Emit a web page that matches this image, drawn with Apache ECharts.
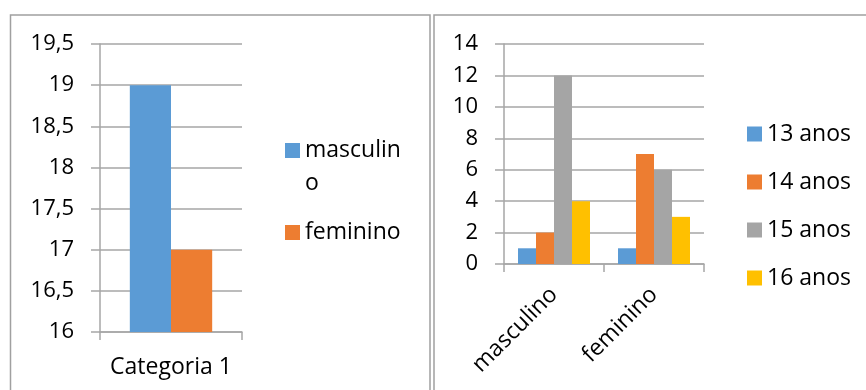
<!DOCTYPE html>
<html>
<head>
<meta charset="utf-8">
<script src="https://cdn.jsdelivr.net/npm/echarts@6/dist/echarts.min.js"></script>
<style>
  html, body { margin: 0; padding: 0; background: #fff; }
  #chart { width: 866px; height: 390px; }
</style>
</head>
<body>
<div id="chart"></div>
<script>
// Left panel: one category, two series
const leftCategories = ['Categoria 1'];
const leftSeriesNames = ['masculino', 'feminino'];
const leftValues = [[19], [17]];
const leftTicks = { min: 16, max: 19.5, interval: 0.5 };

// Right panel: sex x age groups
const rightCategories = ['masculino', 'feminino'];
const rightSeriesNames = ['13 anos', '14 anos', '15 anos', '16 anos'];
const rightValues = [
  [1, 1],   // 13 anos
  [2, 7],   // 14 anos
  [12, 6],  // 15 anos
  [4, 3]    // 16 anos
];
const rightTicks = { min: 0, max: 14, interval: 2 };

const palette = ['#5B9BD5', '#ED7D31', '#A5A5A5', '#FFC000'];
const FONT = 'Open Sans';
const TEXT = '#000000';
const GRID = '#a6a6a6';
const LEGEND_FONT_SIZE = 23;
const LEFT_LEGEND_WIDTH = 102;

const chart = echarts.init(document.getElementById('chart'), null, { renderer: 'canvas' });

const fmtComma = v => String(v).replace('.', ',');

// Entries too long for the legend column wrap; an empty leading line keeps
// the square level with the first line of the wrapped text.
const measureCtx = document.createElement('canvas').getContext('2d');
measureCtx.font = LEGEND_FONT_SIZE + 'px "' + FONT + '"';
const wrapLegend = name =>
  measureCtx.measureText(name).width > LEFT_LEGEND_WIDTH ? '\n' + name : name;

const commonY = {
  type: 'value',
  axisLine: { show: true, lineStyle: { color: GRID, width: 1.5 } },
  axisTick: { show: true, inside: false, length: 9, lineStyle: { color: GRID, width: 1.5 } },
  splitLine: { show: true, lineStyle: { color: GRID, width: 1.5 } },
  axisLabel: { color: TEXT, fontFamily: FONT, fontSize: 22, margin: 26 }
};

const commonX = {
  type: 'category',
  axisLine: { show: true, lineStyle: { color: GRID, width: 1.5 } },
  axisTick: { show: true, length: 8, alignWithLabel: false, lineStyle: { color: GRID, width: 1.5 } },
  splitLine: { show: false }
};

const series = [];
leftSeriesNames.forEach((name, i) => {
  series.push({
    name, type: 'bar', xAxisIndex: 0, yAxisIndex: 0,
    data: leftValues[i],
    itemStyle: { color: palette[i] },
    barGap: '0%', barCategoryGap: '42%'
  });
});
rightSeriesNames.forEach((name, i) => {
  series.push({
    name, type: 'bar', xAxisIndex: 1, yAxisIndex: 1,
    data: rightValues[i],
    itemStyle: { color: palette[i] },
    barGap: '0%', barCategoryGap: '28%'
  });
});

chart.setOption({
  animation: false,
  textStyle: { fontFamily: FONT },
  graphic: [
    { type: 'rect', shape: { x: 10.5, y: 15, width: 419.5, height: 400 },
      style: { fill: 'none', stroke: '#a0a0a0', lineWidth: 1.5 }, silent: true, z: -1 },
    { type: 'rect', shape: { x: 434, y: 15, width: 450, height: 400 },
      style: { fill: 'none', stroke: '#a0a0a0', lineWidth: 1.5 }, silent: true, z: -1 }
  ],
  grid: [
    { left: 100, top: 44, width: 142, height: 288, containLabel: false },
    { left: 504, top: 44, width: 200, height: 220, containLabel: false }
  ],
  xAxis: [
    Object.assign({}, commonX, {
      gridIndex: 0, data: leftCategories,
      axisLabel: { color: TEXT, fontFamily: FONT, fontSize: 23, margin: 24 }
    }),
    Object.assign({}, commonX, {
      gridIndex: 1, data: rightCategories,
      axisLabel: { color: TEXT, fontFamily: FONT, fontSize: 23, rotate: 45, margin: 27 }
    })
  ],
  yAxis: [
    Object.assign({}, commonY, {
      gridIndex: 0, min: leftTicks.min, max: leftTicks.max, interval: leftTicks.interval,
      axisLabel: Object.assign({}, commonY.axisLabel, { formatter: fmtComma })
    }),
    Object.assign({}, commonY, {
      gridIndex: 1, min: rightTicks.min, max: rightTicks.max, interval: rightTicks.interval
    })
  ],
  legend: [
    {
      data: leftSeriesNames, orient: 'vertical', left: 285, top: 101, padding: 0,
      itemWidth: 15, itemHeight: 15, itemGap: 16, icon: 'rect',
      formatter: wrapLegend,
      textStyle: { color: TEXT, fontFamily: FONT, fontSize: LEGEND_FONT_SIZE,
                   width: LEFT_LEGEND_WIDTH, overflow: 'breakAll', lineHeight: 33 }
    },
    {
      data: rightSeriesNames, orient: 'vertical', left: 747, top: 121, padding: 0,
      itemWidth: 15, itemHeight: 15, itemGap: 22, icon: 'rect',
      textStyle: { color: TEXT, fontFamily: FONT, fontSize: LEGEND_FONT_SIZE, lineHeight: 26 }
    }
  ],
  series
});
</script>
</body>
</html>
